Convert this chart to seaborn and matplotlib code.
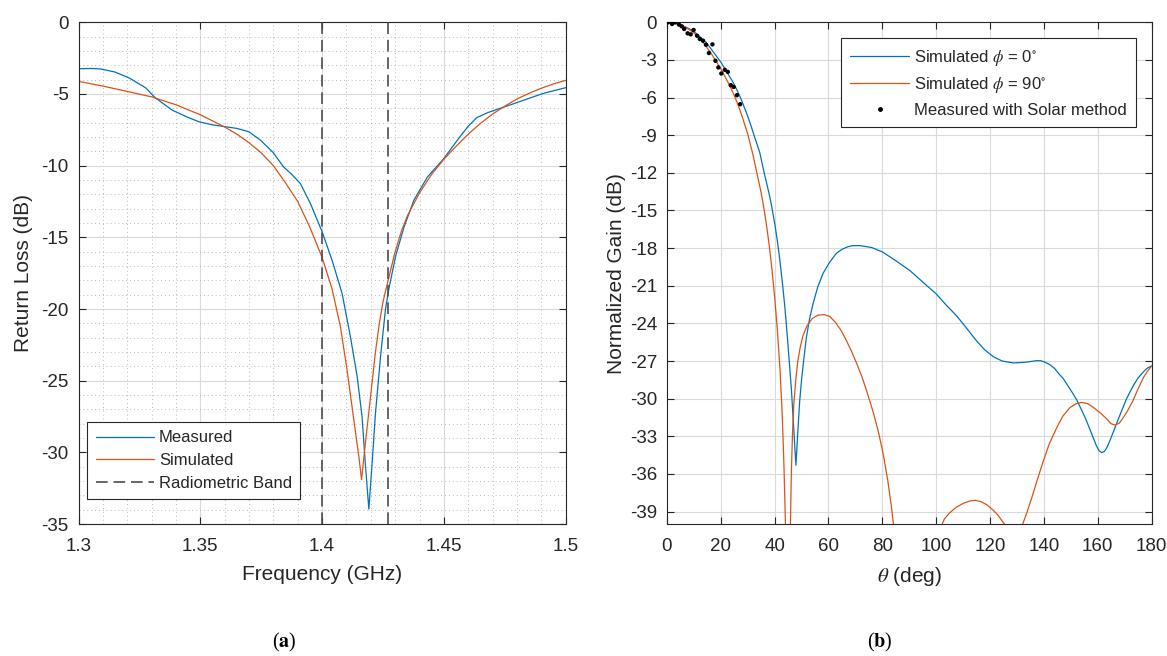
import numpy as np
import pandas as pd
import matplotlib
matplotlib.use('Agg')
import matplotlib.pyplot as plt
import seaborn as sns
from matplotlib.lines import Line2D
from matplotlib.ticker import MultipleLocator

# ---------------- data: (a) return loss ----------------
freq_meas = [1.300, 1.305, 1.309, 1.315, 1.321, 1.3275, 1.3314, 1.3385, 1.3445, 1.3495,
             1.355, 1.359, 1.365, 1.370, 1.3747, 1.380, 1.3841, 1.3875, 1.3911, 1.3952,
             1.400, 1.4041, 1.4082, 1.4116, 1.4144, 1.4164, 1.4178, 1.4192, 1.4206, 1.4219,
             1.424, 1.426, 1.4274, 1.4302, 1.4336, 1.4377, 1.4432, 1.450, 1.4565, 1.460,
             1.4635, 1.468, 1.4722, 1.480, 1.485, 1.491, 1.500]
rl_meas = [-3.24, -3.22, -3.25, -3.47, -3.9, -4.56, -5.25, -6.13, -6.6, -6.94,
           -7.15, -7.25, -7.4, -7.64, -8.22, -9.1, -10.07, -10.6, -11.25, -12.64,
           -14.6, -16.6, -18.9, -21.9, -24.7, -27.5, -30.9, -33.95, -30.6, -27.3,
           -23.3, -20.05, -18.6, -16.3, -14.3, -12.4, -10.8, -9.5, -8.0, -7.25,
           -6.65, -6.3, -6.05, -5.6, -5.3, -4.95, -4.56]

freq_sim = [1.300, 1.310, 1.320, 1.330, 1.340, 1.350, 1.360, 1.365, 1.370, 1.375,
            1.380, 1.385, 1.390, 1.395, 1.400, 1.4041, 1.4075, 1.4103, 1.413, 1.4151,
            1.4162, 1.4178, 1.4199, 1.4219, 1.4235, 1.425, 1.4274, 1.430, 1.4325, 1.435,
            1.440, 1.445, 1.450, 1.455, 1.460, 1.465, 1.470, 1.475, 1.480, 1.485,
            1.490, 1.495, 1.500]
rl_sim = [-4.12, -4.45, -4.82, -5.2, -5.75, -6.45, -7.3, -7.8, -8.4, -9.1,
          -10.0, -11.2, -12.5, -14.3, -16.4, -18.6, -21.2, -24.3, -27.7, -30.3,
          -31.9, -29.3, -26.1, -23.0, -21.0, -19.5, -17.8, -16.0, -14.6, -13.5,
          -11.9, -10.6, -9.55, -8.65, -7.8, -7.05, -6.4, -5.85, -5.35, -4.95,
          -4.6, -4.3, -4.05]

band_edges = [1.400, 1.427]
labels_a = ['Measured', 'Simulated', 'Radiometric Band']
xticks_a = [1.30, 1.35, 1.40, 1.45, 1.50]
xticklabels_a = ['1.3', '1.35', '1.4', '1.45', '1.5']
yticks_a = [0, -5, -10, -15, -20, -25, -30, -35]

# ---------------- data: (b) normalized gain ----------------
theta_phi0 = [0, 2, 4.7, 7, 9.7, 12, 14.6, 17, 20.1, 22.5, 24.6, 26, 27.5, 29.5, 31, 32.5,
              34.5, 36, 37, 38.2, 39, 40, 41, 41.9, 42.8, 43.8, 44.7, 45.6, 46.3, 46.9,
              47.9, 48.7, 49.3, 50, 50.8, 51.8, 53, 54.3, 56, 58, 60.5, 63, 65, 67, 69,
              71.7, 76, 80, 85, 90.3, 95, 100, 104, 107.6, 111, 115, 118, 121.2, 124.5,
              128.7, 133, 137.3, 139, 140.5, 142.3, 144, 145.5, 147.2, 149, 150.5, 152.2,
              154, 155.5, 157, 158.3, 159.5, 160.5, 161.5, 162.5, 163.5, 164.5, 165.8,
              167.5, 169, 170.5, 172, 173.5, 175, 177, 178.5, 180]
gain_phi0 = [0, -0.05, -0.19, -0.38, -0.67, -1.1, -1.6, -2.3, -3.2, -4.05, -4.8, -5.4,
             -6.1, -7.2, -8.1, -9.1, -10.4, -11.9, -12.8, -13.9, -14.8, -16.0, -17.4,
             -18.9, -20.6, -22.7, -25.0, -27.5, -29.5, -31.7, -35.3, -32.3, -30.2, -28.5,
             -26.9, -25.1, -23.6, -22.4, -21.1, -20.0, -19.1, -18.4, -18.1, -17.9, -17.8,
             -17.8, -17.95, -18.3, -19.0, -19.8, -20.7, -21.65, -22.6, -23.4, -24.3,
             -25.4, -26.1, -26.65, -27.0, -27.15, -27.1, -26.97, -26.98, -27.1, -27.3,
             -27.6, -28.0, -28.4, -29.0, -29.5, -30.1, -30.9, -31.6, -32.4, -33.1, -33.75,
             -34.15, -34.3, -34.2, -33.85, -33.35, -32.65, -31.7, -30.9, -30.1, -29.45,
             -28.85, -28.35, -27.85, -27.55, -27.4]

theta_phi90 = [0, 2, 4, 6, 8, 10, 12, 14, 16, 18, 20, 22, 24, 26, 28, 30, 32, 34, 35, 36,
               37, 38, 39, 40, 41, 42, 42.8, 43.4, 43.9, 44.3, 44.7, 45.0, 45.3, 45.6, 45.9,
               46.2, 46.6, 47.1, 47.8, 48.6, 49.5, 50.5, 52, 54, 56, 58.4, 60.5, 62.5, 64.5,
               66.5, 68.5, 70.5, 72.5, 74.5, 76.5, 78.5, 80.4, 82, 83.3, 84.4, 86, 89, 93,
               97, 99, 101, 101.8, 103, 105, 107.5, 110, 112.5, 114.5, 116.5, 118.8, 121,
               123, 125, 126.8, 128, 129.5, 131, 132.1, 133.5, 135.5, 137.5, 139.8, 142,
               144.8, 147, 149.7, 152, 154.1, 156.3, 158.4, 161, 163.3, 165, 166.4, 168,
               169.5, 171, 173, 175, 177, 178.5, 180]
gain_phi90 = [0, -0.03, -0.13, -0.3, -0.55, -0.85, -1.25, -1.75, -2.35, -3.0, -3.7, -4.5,
              -5.35, -6.35, -7.55, -8.9, -10.6, -12.6, -13.6, -14.8, -16.2, -17.8, -19.7,
              -21.9, -24.5, -27.7, -31.2, -34.9, -39.0, -43.0, -48.0, -52.0, -48.0, -43.0,
              -39.5, -36.0, -33.0, -30.5, -28.6, -27.0, -25.9, -25.0, -24.2, -23.6, -23.35,
              -23.3, -23.45, -23.9, -24.5, -25.3, -26.2, -27.2, -28.3, -29.6, -31.0, -32.6,
              -34.5, -36.5, -38.5, -40.5, -43.0, -48.0, -52.0, -48.0, -43.0, -40.6, -40.2,
              -39.6, -39.1, -38.65, -38.35, -38.15, -38.1, -38.2, -38.45, -38.85, -39.3,
              -39.9, -40.4, -40.9, -41.3, -40.8, -40.0, -39.2, -37.9, -36.5, -34.96, -33.6,
              -32.3, -31.4, -30.7, -30.4, -30.3, -30.4, -30.7, -31.15, -31.6, -32.0, -32.1,
              -31.95, -31.5, -31.0, -30.2, -29.2, -28.3, -27.8, -27.4]

theta_solar = [0.4, 1.9, 3.0, 4.5, 5.5, 6.4, 7.7, 8.8, 9.9, 11.2, 12.2, 13.4, 14.5, 15.6,
               16.9, 18.0, 19.1, 20.2, 21.5, 22.6, 23.7, 24.8, 26.0, 27.2]
gain_solar = [0.0, -0.13, 0.0, -0.19, -0.32, -0.53, -0.88, -0.96, -0.61, -1.07, -1.33,
              -1.47, -1.79, -2.45, -1.76, -3.07, -3.6, -4.08, -3.79, -3.95, -5.01, -5.15,
              -5.81, -6.53]

labels_b = [r'Simulated $\phi$ = 0$^{\circ}$', r'Simulated $\phi$ = 90$^{\circ}$',
            'Measured with Solar method']
xticks_b = [0, 20, 40, 60, 80, 100, 120, 140, 160, 180]
yticks_b = [0, -3, -6, -9, -12, -15, -18, -21, -24, -27, -30, -33, -36, -39]

# ---------------- styling ----------------
sns.set_style('ticks')
plt.rcParams['font.family'] = ['Liberation Sans', 'DejaVu Sans']
plt.rcParams['mathtext.fontset'] = 'stix'
plt.rcParams['axes.unicode_minus'] = False

BLUE = '#0072BD'
ORANGE = '#D95319'
TXT = '#262626'
LW = 0.9

fig = plt.figure(figsize=(11.67, 6.56), dpi=100)
ax1 = fig.add_axes([0.0673, 0.2010, 0.4174, 0.7650])
ax2 = fig.add_axes([0.5715, 0.2010, 0.4153, 0.7650])

# ---- (a)
sns.lineplot(x=freq_meas, y=rl_meas, ax=ax1, color=BLUE, lw=LW, estimator=None, sort=False)
sns.lineplot(x=freq_sim, y=rl_sim, ax=ax1, color=ORANGE, lw=LW, estimator=None, sort=False)
for b in band_edges:
    ax1.axvline(b, color='#4d4d4d', lw=1.2, dashes=(7, 3.5), zorder=3)

ax1.set_xlim(1.3, 1.5)
ax1.set_ylim(-35, 0)
ax1.set_xticks(xticks_a)
ax1.set_xticklabels(xticklabels_a)
ax1.set_yticks(yticks_a)
ax1.set_yticklabels([str(v) for v in yticks_a])
ax1.xaxis.set_minor_locator(MultipleLocator(0.01))
ax1.yaxis.set_minor_locator(MultipleLocator(1))
ax1.grid(True, which='major', color='#dadada', lw=0.8, ls='-')
ax1.grid(True, which='minor', color='#b8b8b8', lw=0.7, ls=(0, (1, 3)))
ax1.set_xlabel('Frequency (GHz)', fontsize=15, color=TXT, labelpad=7)
ax1.set_ylabel('Return Loss (dB)', fontsize=15, color=TXT, labelpad=6)

h_a = [Line2D([], [], color=BLUE, lw=LW),
       Line2D([], [], color=ORANGE, lw=LW),
       Line2D([], [], color='#4d4d4d', lw=1.2, dashes=(7, 3.5))]
leg1 = ax1.legend(h_a, labels_a, loc='lower left', bbox_to_anchor=(0.018, 0.05),
                  borderaxespad=0, fontsize=12.0, handlelength=3.5, handletextpad=0.3,
                  borderpad=0.5, labelspacing=0.46, fancybox=False, framealpha=1,
                  edgecolor=TXT)
leg1.get_frame().set_linewidth(0.8)

# ---- (b)
sns.lineplot(x=theta_phi0, y=gain_phi0, ax=ax2, color=BLUE, lw=LW, estimator=None, sort=False)
sns.lineplot(x=theta_phi90, y=gain_phi90, ax=ax2, color=ORANGE, lw=LW, estimator=None, sort=False)
sns.scatterplot(x=theta_solar, y=gain_solar, ax=ax2, color='black', s=10,
                edgecolor='none', zorder=5)

ax2.set_xlim(0, 180)
ax2.set_ylim(-40, 0)
ax2.set_xticks(xticks_b)
ax2.set_xticklabels([str(v) for v in xticks_b])
ax2.set_yticks(yticks_b)
ax2.set_yticklabels([str(v) for v in yticks_b])
ax2.grid(True, which='major', color='#dadada', lw=0.8, ls='-')
ax2.set_xlabel(r'$\theta$ (deg)', fontsize=15, color=TXT, labelpad=7)
ax2.set_ylabel('Normalized Gain (dB)', fontsize=15, color=TXT, labelpad=3)

h_b = [Line2D([], [], color=BLUE, lw=LW),
       Line2D([], [], color=ORANGE, lw=LW),
       Line2D([], [], ls='none', marker='.', color='black', markersize=5)]
leg2 = ax2.legend(h_b, labels_b, loc='upper right', bbox_to_anchor=(0.967, 0.968),
                  borderaxespad=0, fontsize=12.0, handlelength=3.5, handletextpad=0.3,
                  borderpad=0.55, labelspacing=0.46, fancybox=False, framealpha=1,
                  edgecolor=TXT)
leg2.get_frame().set_linewidth(0.8)

for ax in (ax1, ax2):
    ax.set_axisbelow(True)
    ax.tick_params(which='major', direction='in', length=5, width=0.8, top=True,
                   right=True, labelsize=13.5, colors=TXT, pad=10)
    ax.tick_params(axis='y', which='major', pad=7)
    ax.tick_params(which='minor', length=0)
    for s in ax.spines.values():
        s.set_color(TXT)
        s.set_linewidth(0.8)
        s.set_visible(True)

fig.text(0.244, 0.02, r'($\mathbf{a}$)', ha='center', va='center', fontsize=14.5,
         family='Liberation Serif', color='black')
fig.text(0.754, 0.02, r'($\mathbf{b}$)', ha='center', va='center', fontsize=14.5,
         family='Liberation Serif', color='black')

fig.savefig('out.png', dpi=100)
